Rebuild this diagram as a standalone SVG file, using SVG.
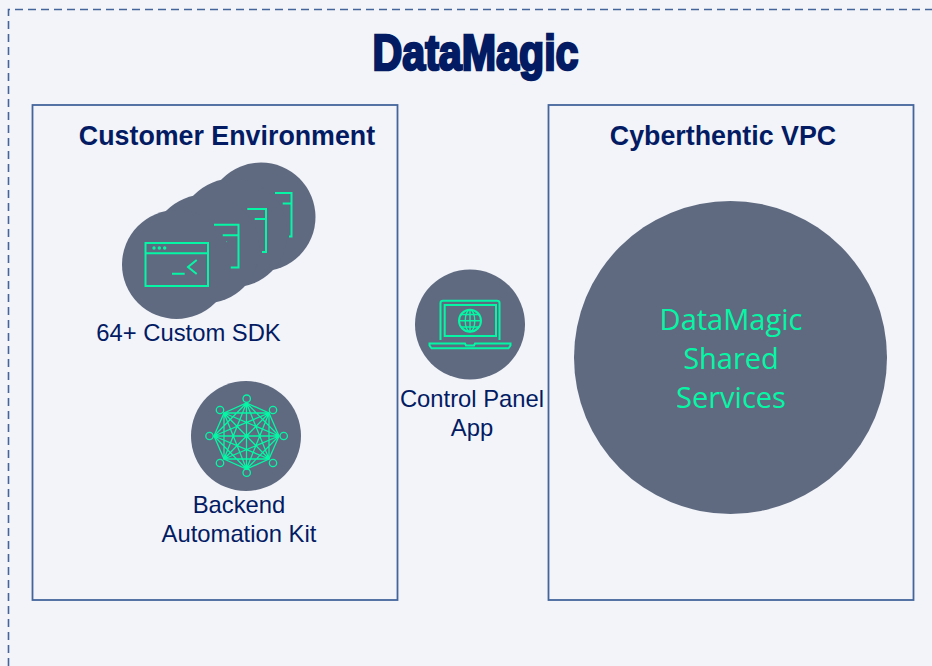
<svg xmlns="http://www.w3.org/2000/svg" width="932" height="666" viewBox="0 0 932 666">
<style>
.c{fill:#5f6a80}
.g{fill:none;stroke:#05f7a5;stroke-width:2}
.box{fill:none;stroke:#44659b;stroke-width:1.800}
.t{font-family:"Liberation Sans",Arial,sans-serif;fill:#021b63;text-anchor:middle}
.h{font-weight:700;font-size:26.800px}
.l{font-size:23.800px}
.s{font-family:"Open Sans","Noto Sans",sans-serif;font-size:29px;fill:#05f7a5;text-anchor:middle}
</style>
<rect width="932" height="666" fill="#f2f4f9"/>
<path d="M8.500 666V9.500H932" fill="none" stroke="#44659b" stroke-width="1.600" stroke-dasharray="8 5"/>
<text id="title" x="475.500" y="70" class="t" font-size="50" font-weight="700" stroke="#021b63" stroke-width="2.600" textLength="206" lengthAdjust="spacingAndGlyphs">DataMagic</text>
<g id="customer-environment">
<rect class="box" x="32.500" y="105" width="365" height="495"/>
<text class="t h" x="227" y="145">Customer Environment</text>
</g>
<g id="cyberthentic-vpc">
<rect class="box" x="548.500" y="105" width="365" height="495"/>
<text class="t h" x="723" y="145">Cyberthentic VPC</text>
</g>
<g id="custom-sdk">
<circle class="c" cx="261" cy="217" r="54.500"/>
<circle class="c" cx="233" cy="233" r="54.500"/>
<circle class="c" cx="205" cy="249" r="54.500"/>
<circle class="c" cx="176.500" cy="264.500" r="54.500"/>
<path class="g" d="M275 193H291.500V236.500H289M282.700 203.500H291.500"/>
<path class="g" d="M247.300 209H266V252H262M254.700 219H266"/>
<path class="g" d="M214 224.700H238.500V267.500H230.700M222.700 235.300H238.500"/>
<rect x="226.300" y="241.300" width="0.800" height="0.800" fill="#05f7a5"/>
<rect class="g" x="145.500" y="243" width="62.500" height="43"/>
<path class="g" d="M145.500 253.300H208M172 273.700H184.700M196.700 260L188 267L196.700 274"/>
<circle cx="154" cy="248" r="1.700" fill="#05f7a5"/>
<circle cx="159.300" cy="248" r="1.700" fill="#05f7a5"/>
<circle cx="164.700" cy="248" r="1.700" fill="#05f7a5"/>
<text class="t l" x="188.500" y="341">64+ Custom SDK</text>
</g>
<g id="backend-automation-kit">
<circle class="c" cx="246" cy="436" r="55"/>
<g class="g" style="stroke-width:1.300">
<path d="M246.500 403L269 413L279 436L269 459L246.500 469L224 459L214 436L224 413Z"/>
<path d="M246.500 403L279 436L246.500 469L214 436ZM224 413L269 413L269 459L224 459ZM246.500 403L269 459M246.500 403L224 459M279 436L224 413M279 436L224 459M246.500 469L224 413M246.500 469L269 413M214 436L269 413M214 436L269 459M246.500 403V469M214 436H279M224 413L269 459M269 413L224 459"/>
<circle cx="246.700" cy="398.700" r="3.700"/>
<circle cx="246.700" cy="472.700" r="3.700"/>
<circle cx="209.500" cy="436" r="3.700"/>
<circle cx="283.700" cy="436" r="3.700"/>
<circle cx="220" cy="410" r="3.700"/>
<circle cx="273" cy="410" r="3.700"/>
<circle cx="220" cy="463" r="3.700"/>
<circle cx="273" cy="463" r="3.700"/>
</g>
<text class="t l" x="239" y="513">Backend</text>
<text class="t l" x="239" y="542">Automation Kit</text>
</g>
<g id="control-panel-app">
<circle class="c" cx="470" cy="324.500" r="55"/>
<path class="g" d="M440.500 340V303Q440.500 300.700 443 300.700H497Q499.500 300.700 499.500 303V340"/>
<rect class="g" x="444.700" y="305" width="51.300" height="31"/>
<circle class="g" cx="470" cy="320.700" r="11"/>
<path class="g" style="stroke-width:1.400" d="M459 320.700H481M461 314.500H479M461 327H479M470 309.700V331.700"/>
<ellipse class="g" style="stroke-width:1.400" cx="470" cy="320.700" rx="4.800" ry="11"/>
<path class="g" d="M429.500 343.500H465L466 345.500H474L475 343.500H510.500V345.500L508.500 348.300H431.500L429.500 345.500Z"/>
<text class="t l" x="472" y="407">Control Panel</text>
<text class="t l" x="472" y="436">App</text>
</g>
<g id="shared-services">
<circle class="c" cx="730.500" cy="357.500" r="156.500"/>
<text class="s" x="731" y="329.500">DataMagic</text>
<text class="s" x="731" y="368.500">Shared</text>
<text class="s" x="731" y="407.500">Services</text>
</g>
<g id="connectors"/>
</svg>
